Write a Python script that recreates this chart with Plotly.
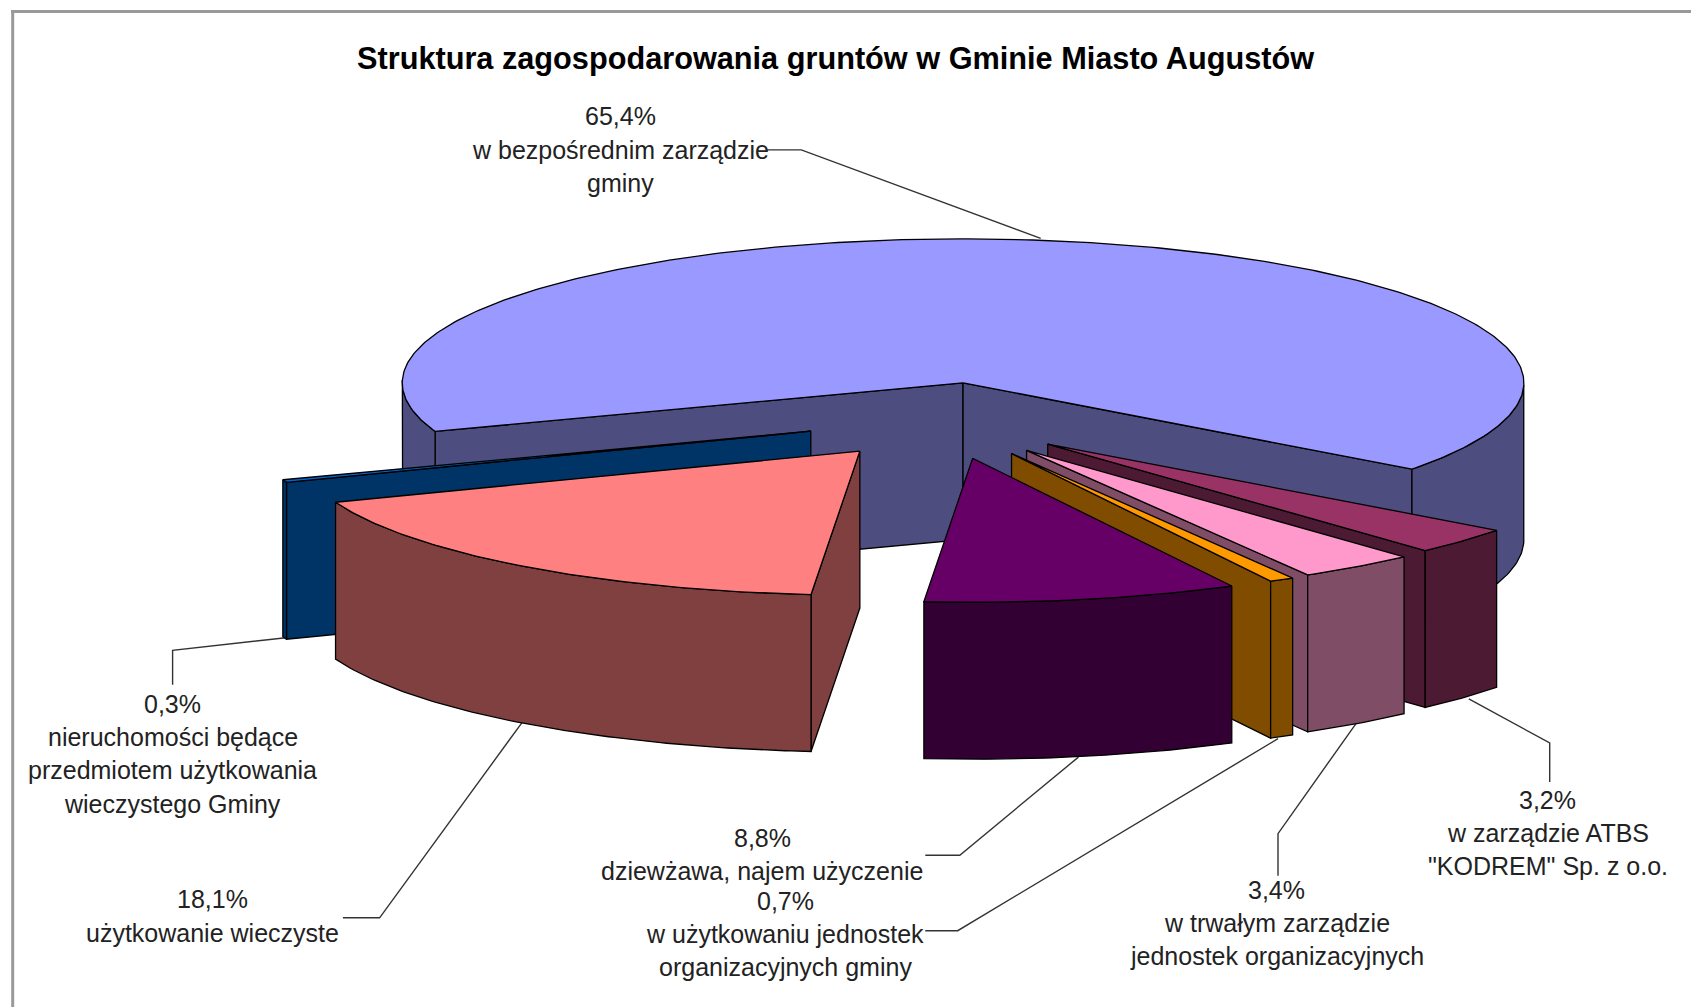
import math
import plotly.graph_objects as go

# ---- data (clockwise, starting with the large slice)
categories = [
    ["w bezpośrednim zarządzie", "gminy"],
    ["w zarządzie ATBS", "\"KODREM\" Sp. z o.o."],
    ["w trwałym zarządzie", "jednostek organizacyjnych"],
    ["w użytkowaniu jednostek", "organizacyjnych gminy"],
    ["dziewżawa, najem użyczenie"],
    ["użytkowanie wieczyste"],
    ["nieruchomości będące", "przedmiotem użytkowania", "wieczystego Gminy"],
]
values = [65.4, 3.2, 3.4, 0.7, 8.8, 18.1, 0.3]
title_text = "Struktura zagospodarowania gruntów w Gminie Miasto Augustów"

# ---- styling
top_colors = ["#9999FF", "#993366", "#FF99CC", "#FF9900", "#660066", "#FF8080", "#0066CC"]
side_colors = ["#4D4D80", "#4D1A33", "#804D66", "#804D00", "#330033", "#804040", "#003366"]
draw_order = [0, 6, 5, 1, 2, 3, 4]
S = 1691 / 1568
START_ANGLE = 249.3
RX, RY, DEPTH = 520 * S, 133.5 * S, 145.5 * S
MAIN_APEX = (893 * S, 355 * S)
GROUP_CENTER = (873 * S, 385 * S)
EXPLODE_X, EXPLODE_Y = 130 * S, 41 * S
TEXT_COLOR = "#222222"
FONT = "Liberation Sans, Arial, sans-serif"
LABEL_SIZE = 25
TITLE_SIZE = 30.7
LINE_H = 30.7 * S
# label block: centre x and first-line y, in reference pixels
label_pos = [(575, 108), (1435, 742), (1184, 825), (728, 835), (707, 777), (197, 834), (160, 653)]
leaders = [
    [(711, 139), (743, 139), (965, 221)],
    [(1437, 725), (1437, 689), (1362, 648)],
    [(1185, 812), (1185, 773), (1258, 670)],
    [(858, 863), (888, 863), (1185, 685)],
    [(858, 793), (890, 793), (1000, 702)],
    [(318, 851), (352, 851), (484, 670)],
    [(160, 635), (160, 603), (305, 587)],
]


def warp(deg):
    """Slight perspective distortion of the drawn rim angle (degrees)."""
    t = deg % 360
    return deg + 1.0 + math.exp(-((t - 183) / 25) ** 2) + math.exp(-((t - 120) / 12) ** 2)


fig = go.Figure()


def poly(pts, color, name):
    fig.add_trace(go.Scatter(
        x=[p[0] for p in pts] + [pts[0][0]],
        y=[p[1] for p in pts] + [pts[0][1]],
        mode="lines", fill="toself", fillcolor=color,
        line=dict(color="#000000", width=1.3),
        name=name, hoverinfo="name", showlegend=False,
    ))


total = sum(values)
spans = []
a = START_ANGLE
for v in values:
    spans.append((a, a + v / total * 360))
    a += v / total * 360

for i in draw_order:
    a0, a1 = spans[i]
    mid = math.radians((a0 + a1) / 2)
    if i == 0:
        cx, cy = MAIN_APEX
    else:
        cx = GROUP_CENTER[0] + EXPLODE_X * math.sin(mid)
        cy = GROUP_CENTER[1] - EXPLODE_Y * math.cos(mid)

    def rim(deg, drop=0.0):
        r = math.radians(warp(deg))
        return (cx + RX * math.sin(r), cy - RY * math.cos(r) + drop)

    name = " ".join(categories[i])
    # radial cut faces that look towards the viewer
    for ang, vis in ((a0, -math.sin(math.radians(a0))), (a1, math.sin(math.radians(a1)))):
        if vis > 0:
            p = rim(ang)
            poly([(cx, cy), p, (p[0], p[1] + DEPTH), (cx, cy + DEPTH)], side_colors[i], name)
    # outer wall: the parts of the rim on the near half (90..270 deg, mod 360)
    for lo, hi in ((90, 270), (450, 630)):
        s, e = max(a0, lo), min(a1, hi)
        if e > s:
            n = max(2, int((e - s) * 1.5))
            angs = [s + (e - s) * k / n for k in range(n + 1)]
            poly([rim(t) for t in angs] + [rim(t, DEPTH) for t in reversed(angs)], side_colors[i], name)
    # top face
    n = max(2, int((a1 - a0) * 1.5))
    poly([(cx, cy)] + [rim(a0 + (a1 - a0) * k / n) for k in range(n + 1)], top_colors[i], name)

annotations = [dict(
    x=774.5 * S, y=54.5 * S, text=f"<b>{title_text}</b>", showarrow=False,
    xanchor="center", yanchor="middle",
    font=dict(family=FONT, size=TITLE_SIZE, color="#000000"),
)]
for v, cat, (lx, ly) in zip(values, categories, label_pos):
    lines = [f"{v:.1f}%".replace(".", ",")] + cat
    for k, line in enumerate(lines):
        annotations.append(dict(
            x=lx * S, y=ly * S + k * LINE_H, text=line, showarrow=False,
            xanchor="center", yanchor="middle",
            font=dict(family=FONT, size=LABEL_SIZE, color=TEXT_COLOR),
        ))

shapes = [
    dict(type="line", x0=12.7, x1=12.7, y0=10, y1=1007, line=dict(color="#999999", width=3)),
    dict(type="line", x0=11, x1=1691, y0=11.5, y1=11.5, line=dict(color="#999999", width=3)),
]
for pts in leaders:
    path = "M " + " L ".join(f"{x * S:.1f} {y * S:.1f}" for x, y in pts)
    shapes.append(dict(type="path", path=path, line=dict(color="#333333", width=1.4), layer="below"))

fig.update_layout(
    width=1691, height=1007, margin=dict(l=0, r=0, t=0, b=0),
    paper_bgcolor="#FFFFFF", plot_bgcolor="#FFFFFF", showlegend=False,
    xaxis=dict(range=[0, 1691], visible=False, fixedrange=True),
    yaxis=dict(range=[1007, 0], visible=False, fixedrange=True),
    annotations=annotations, shapes=shapes,
)
fig.write_html(
    "out.html",
    config={"displayModeBar": False},
    post_script="document.body.style.margin='0';document.documentElement.style.overflow='hidden';",
)
